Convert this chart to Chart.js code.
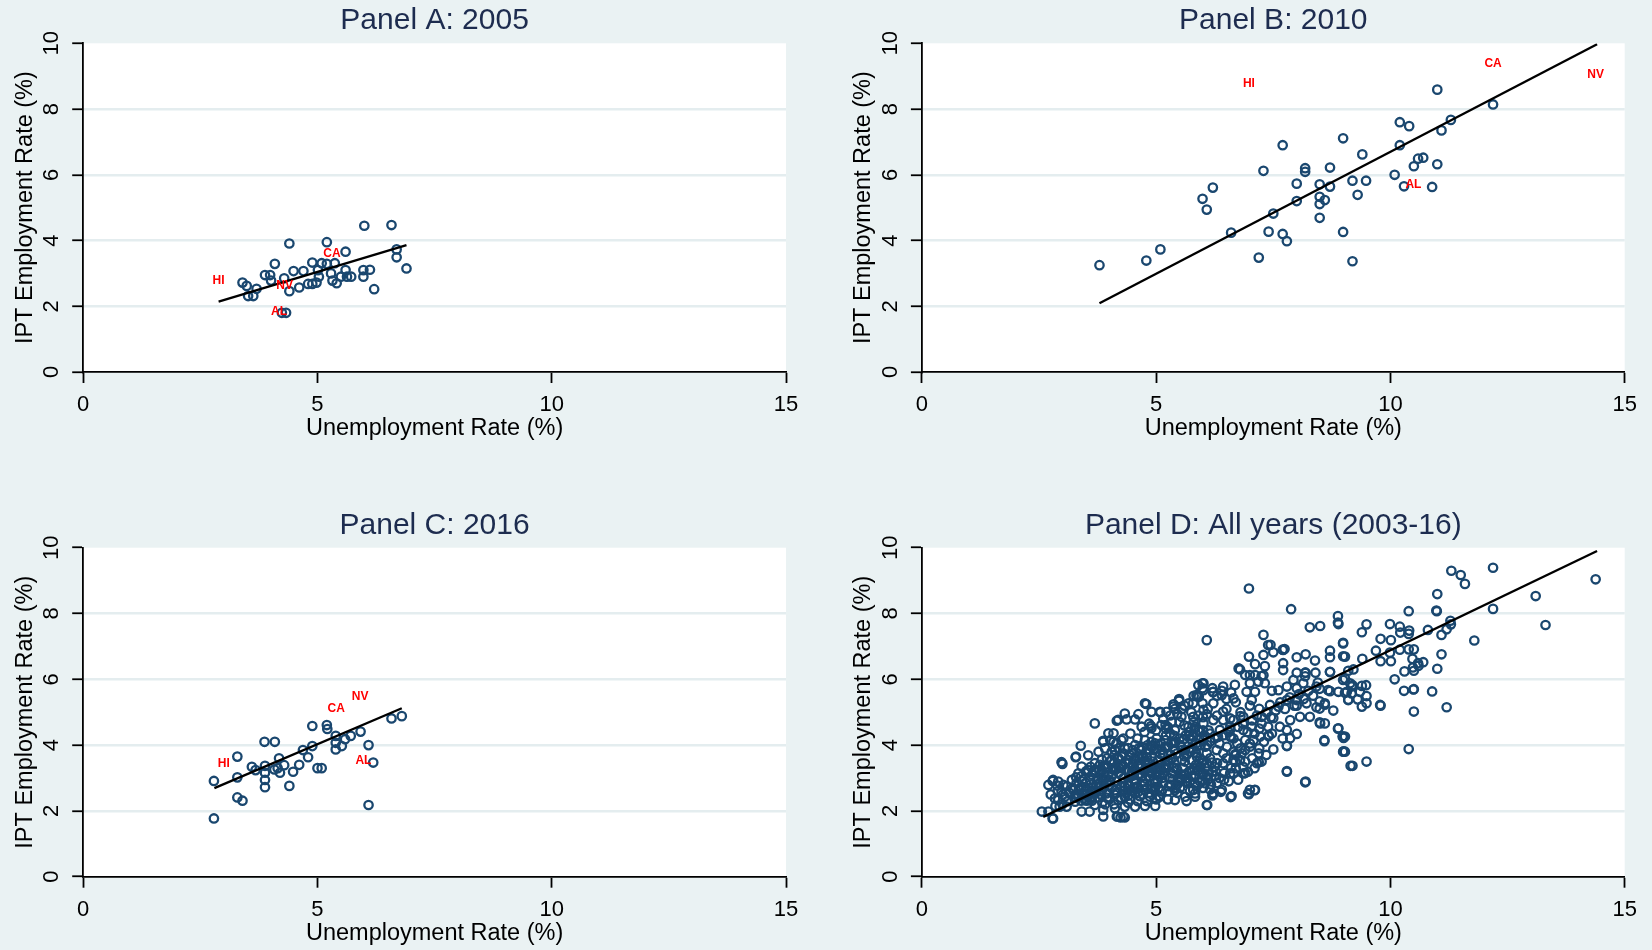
<!DOCTYPE html>
<html><head><meta charset="utf-8">
<script src="https://cdn.jsdelivr.net/npm/chart.js@4.4.1/dist/chart.umd.min.js"></script>
<style>
html,body{margin:0;padding:0;background:#eaf2f3;width:1652px;height:950px;overflow:hidden;}
.cell{position:absolute;width:826px;height:475px;}
canvas{display:block;}
</style></head><body>
<div class="cell" style="left:0;top:0"><canvas id="cA" width="826" height="475"></canvas></div>
<div class="cell" style="left:826px;top:0"><canvas id="cB" width="826" height="475"></canvas></div>
<div class="cell" style="left:0;top:475px"><canvas id="cC" width="826" height="475"></canvas></div>
<div class="cell" style="left:826px;top:475px"><canvas id="cD" width="826" height="475"></canvas></div>
<script>
// ---------- DATA ----------
const titleA = "Panel A: 2005";
const titleB = "Panel B: 2010";
const titleC = "Panel C: 2016";
const titleD = "Panel D: All years (2003-16)";
const xAxisTitle = "Unemployment Rate (%)";
const yAxisTitle = "IPT Employment Rate (%)";
const xTicks = [0, 5, 10, 15];
const yTicks = [0, 2, 4, 6, 8, 10];

// [unemployment rate, IPT employment rate]
const pointsA = [[3.40,2.72],[3.49,2.62],[3.52,2.31],[3.63,2.31],[3.70,2.53],[3.88,2.95],[3.99,2.95],[4.09,3.29],[4.01,2.78],[4.29,2.85],[4.40,3.91],[4.40,2.46],[4.49,3.07],[4.61,2.57],[4.70,3.07],[4.80,2.68],[4.89,3.33],[4.89,2.68],[4.98,2.72],[5.03,2.90],[5.01,3.10],[5.09,3.31],[5.20,3.95],[5.20,3.29],[5.29,3.00],[5.32,2.78],[5.41,2.70],[5.37,3.31],[5.50,2.90],[5.60,3.66],[5.60,3.10],[5.63,2.90],[5.72,2.90],[5.98,3.10],[5.98,2.90],[6.12,3.11],[6.21,2.52],[6.00,4.45],[6.58,4.47],[6.69,3.73],[6.69,3.49],[6.90,3.15],[4.24,1.80],[4.33,1.80]];
const labelsA = [["HI",2.89,2.77],["CA",5.31,3.59],["NV",4.30,2.62],["AL",4.18,1.83]];
const fitA = [[2.89,2.14],[6.90,3.86]];

const pointsB = [[3.79,3.25],[4.79,3.39],[5.09,3.73],[5.99,5.27],[6.08,4.94],[6.21,5.61],[6.60,4.24],[7.19,3.48],[7.29,6.12],[7.40,4.27],[7.50,4.82],[7.70,6.90],[7.70,4.20],[7.79,3.98],[8.00,5.73],[8.00,5.20],[8.18,6.20],[8.18,6.09],[8.49,5.71],[8.49,5.33],[8.49,5.11],[8.60,5.23],[8.49,4.69],[8.71,6.22],[8.71,5.64],[8.99,7.11],[8.99,4.26],[9.19,5.82],[9.19,3.37],[9.30,5.39],[9.40,6.62],[9.48,5.82],[10.09,6.00],[10.20,7.60],[10.20,6.90],[10.29,5.65],[10.40,7.48],[10.50,6.26],[10.59,6.49],[10.70,6.52],[10.89,5.63],[11.00,8.59],[11.00,6.32],[11.09,7.35],[11.29,7.67],[12.19,8.14]];
const labelsB = [["HI",6.98,8.76],["CA",12.19,9.39],["NV",14.38,9.04],["AL",10.49,5.69]];
const fitB = [[3.79,2.09],[14.41,9.97]];

const pointsC = [[2.79,2.91],[2.79,1.77],[3.29,3.65],[3.29,3.02],[3.29,2.41],[3.40,2.31],[3.60,3.34],[3.68,3.24],[3.87,4.10],[4.09,4.10],[3.88,3.37],[3.88,3.16],[3.88,2.94],[3.88,2.72],[4.08,3.26],[4.18,3.60],[4.20,3.16],[4.29,3.39],[4.40,2.76],[4.48,3.19],[4.61,3.40],[4.69,3.85],[4.80,3.63],[4.89,4.58],[4.89,3.97],[5.00,3.30],[5.09,3.30],[5.20,4.61],[5.21,4.49],[5.39,4.28],[5.39,4.07],[5.39,3.87],[5.52,3.97],[5.59,4.18],[5.71,4.28],[5.92,4.41],[6.09,4.00],[6.19,3.47],[6.09,2.18],[6.58,4.81],[6.80,4.88],[4.15,3.30]];
const labelsC = [["HI",3.00,3.43],["CA",5.40,5.10],["NV",5.91,5.47],["AL",5.98,3.52]];
const fitC = [[2.80,2.69],[6.80,5.12]];

// remaining state-years shown only in panel D
const pointsOtherYears = [
[13.10,8.53],[13.31,7.65],[11.30,9.30],[11.50,9.17],[11.59,8.90],[11.79,7.18],
[10.39,8.07],[10.99,8.07],[11.28,7.78],[11.20,7.52],[10.80,7.50],[9.49,7.67],[9.39,7.43],[9.99,7.68],[10.21,7.42],[10.39,7.38],[9.79,7.23],[10.01,7.19],[9.03,6.69],[9.69,6.87],[9.99,6.81],[10.39,6.91],[10.50,6.91],[9.79,6.55],[10.01,6.55],[10.47,6.62],[10.48,6.36],[10.60,6.41],[11.09,6.76],[9.10,6.26],[9.21,6.30],[10.30,6.24],[9.03,6.02],[9.17,5.78],[9.39,5.80],[9.03,5.59],[9.17,5.57],[9.35,5.62],[9.49,5.49],[9.10,5.38],[9.49,5.27],[9.39,5.17],[9.79,5.20],[10.50,5.70],[10.50,5.02],[11.20,5.15],[9.03,4.26],[9.03,3.80],[9.49,3.50],[10.39,3.88],
[7.88,8.13],[8.88,7.92],[8.88,7.72],[10.98,8.09],[9.78,5.22],[8.59,4.12],[8.19,2.89],[7.79,3.21],[6.98,2.51],[7.10,2.63],[6.59,2.42],[6.08,2.18],[6.20,2.47],[6.38,2.58],[3.69,4.66],[2.98,3.48],[4.19,4.77],[4.79,5.25],[5.09,5.00],[5.37,5.24],[5.49,5.40],[5.99,5.88],[5.99,5.73],[6.76,6.33],[6.98,6.69],[7.29,7.35],[7.44,7.05],[7.74,6.92],[8.19,6.76],[8.88,4.50],[9.00,4.22],[9.00,3.81],
[6.08,7.19],[8.28,7.58],[8.50,7.62],[8.89,7.68],[7.39,7.04],[7.50,6.82],[7.71,6.89],[7.29,6.74],[7.11,6.46],[6.79,6.30],[6.90,6.13],[7.00,6.13],[7.11,6.13],[7.25,6.10],[7.32,6.40],[8.00,6.67],[8.39,6.57],[8.71,6.87],[8.71,6.67],[8.99,7.09],[8.99,6.70],[7.71,6.49],[7.71,6.28],[8.00,6.20],[8.19,6.20],[8.40,6.20],[8.71,6.23],[8.99,5.98],[9.14,5.88],[9.07,5.62],[9.10,5.37],[8.89,5.62],[8.67,5.67],[8.42,5.78],[8.14,5.88],[7.93,5.98],[7.79,5.78],[7.61,5.67],[7.47,5.65],[7.32,5.88],[7.18,5.93],[7.00,5.88],[6.93,5.62],[7.11,5.62],[7.04,5.37],[6.68,5.83],[6.65,5.42],[6.43,5.78],[6.40,5.52],[6.22,5.62],[6.01,5.88],[6.01,5.67],[5.87,5.48],[6.22,5.27],[6.01,5.07],[5.79,5.27],[5.79,4.86],[6.43,5.02],[6.65,4.76],[6.86,4.86],[6.86,4.46],[7.04,4.56],[7.25,4.86],[7.43,5.22],[7.61,5.17],[7.79,5.37],[8.00,5.37],[8.21,5.27],[8.42,5.15],[8.60,5.27],[8.78,5.05],[8.50,4.66],[8.60,4.66],[8.28,4.86],[8.07,4.86],[7.86,4.76],[7.64,4.56],[7.79,4.46],[7.86,4.21],[8.00,4.34],[7.47,4.35],[7.39,4.56],[7.22,4.26],[7.50,3.87],[7.79,3.97],[8.59,4.15],[8.89,4.51],[8.98,4.26],[8.99,3.80],[9.15,3.37],[7.79,3.19],[8.18,2.87],[7.19,3.75],[7.15,3.45],[7.25,3.50],[6.96,3.19],[6.86,3.14],[6.65,3.14],[6.58,3.14],[6.86,3.34],[7.00,2.64],[7.11,2.64],[6.96,2.53],[6.61,2.45],[6.40,2.64],[6.22,2.53],[6.04,2.84],[5.79,2.64],[5.83,2.43],[6.01,3.14],[6.25,3.07],[6.25,3.34],[6.43,3.45],[6.65,3.55],[6.83,3.75],[7.00,3.95],[7.08,4.15],[6.90,4.15],[6.73,4.05],[6.51,3.95],[6.29,3.85],[6.08,3.75],[5.87,3.64],[5.87,3.95],[6.01,4.15],[6.15,4.35],[6.36,4.46],[6.58,4.56],[6.58,4.26],[6.43,4.76],[6.22,4.76],[6.01,4.66],[5.83,4.56],[5.79,4.26],[5.94,3.34],[6.08,3.45],[6.43,3.75],[6.65,3.80],[6.79,3.55],
[3.39,3.98],[3.28,3.63],[2.70,2.79],[2.80,2.94],[2.91,2.89],[3.02,2.79],[2.56,1.98],[2.70,1.98],[2.80,1.77],[2.94,2.13],[3.09,2.13],[3.27,2.28],[3.41,1.98],[3.58,1.98],[3.87,1.83],[3.87,2.03],[4.16,1.83],[4.30,1.83],[4.12,2.08],[4.33,2.13],[4.55,2.13],[4.76,2.15],[4.98,2.15],[5.08,2.43],[4.87,2.43],[2.84,2.38],[3.05,2.43],[3.23,2.63],[3.45,2.73],[3.59,2.94],[3.55,3.24],[3.69,3.45],[3.84,3.55],[3.55,3.69],[3.77,3.80],[3.91,3.90],[3.87,4.13],[4.02,4.15],[4.09,4.36],[3.98,4.36],[4.16,4.74],[4.37,4.78],[4.33,4.96],[4.55,4.78],[4.62,4.94],[4.76,5.27],[4.90,5.01],[5.08,5.01],[5.22,5.01],[5.37,5.17],[5.49,5.35],[5.69,5.27],[5.86,5.52],[5.90,5.82],[4.26,4.15],[4.12,3.85],[4.33,3.90],[4.55,4.00],[4.69,4.56],[4.90,4.51],[5.11,4.61],[5.33,4.71],[5.54,4.86],[5.69,4.56],[5.76,4.15],[5.62,3.85],[5.76,3.55],[5.90,3.24],[5.83,2.84],[5.83,2.53],[5.62,2.43],[5.40,2.33],[5.40,2.63],[5.54,2.94],[5.33,3.14],[5.11,3.24],[5.26,3.55],[5.40,3.85],[5.19,3.95],[4.98,4.05],[4.76,4.15],[4.69,3.65],[4.90,3.65],[4.55,3.55],[4.41,3.45],[4.26,3.35],[4.12,3.24],[3.98,3.09],[3.84,2.99],[3.77,2.73],[3.94,2.53],[4.12,2.63],[4.33,2.73],[4.55,2.84],[4.69,3.04],[4.90,3.14],[4.98,2.84],[4.76,2.63],[4.55,2.53],[4.33,2.43],[4.19,2.33],[2.98,2.58],[2.91,2.33],[3.34,2.43],[3.48,2.33],[3.62,2.43],[3.69,2.18],[3.20,2.94],[3.34,3.14],[3.41,3.35],[3.84,3.24],[4.05,3.55],[4.26,3.65],[4.48,3.75],
[4.30,3.00],[4.42,3.20],[4.50,3.40],[4.61,3.10],[4.72,2.90],[4.81,3.30],[4.93,3.50],[5.02,3.20],[5.13,3.00],[5.22,3.40],[5.31,3.70],[5.43,3.30],[5.52,3.00],[5.61,3.50],[5.72,3.80],[5.81,3.30],[5.93,3.60],[4.44,3.70],[4.63,3.90],[4.82,4.00],[5.01,4.20],[5.21,4.30],[5.42,4.10],[5.63,4.30],[5.82,4.50],[6.03,4.30],[4.52,2.70],[4.71,2.50],[4.92,2.70],[5.12,2.60],[5.31,2.80],[5.51,2.70],[5.72,2.60],[5.93,2.90],[4.35,3.45],[4.65,3.60],[4.95,3.85],[5.25,3.95],[5.55,3.85],[5.85,4.05],[4.25,2.75],[4.55,2.95],[4.85,3.05],[5.15,3.15],[5.45,3.25],[5.75,3.05],
[3.61,2.60],[3.72,2.80],[3.81,3.10],[3.92,3.30],[4.01,3.50],[4.11,3.70],[4.22,3.90],[3.52,2.50],[3.31,2.50],[3.12,2.30],[3.01,2.50],[3.22,2.70],[3.42,2.90],[3.63,3.10],[3.82,2.50],[4.02,2.90],[4.21,3.30],[3.91,2.20],[4.11,2.50],[4.31,2.60],
[6.20,5.73],[6.30,5.50],[6.40,5.65],[6.50,5.40],[5.80,5.50],[5.60,5.20],[5.30,4.90],[5.50,4.70],[5.90,4.90],[6.10,5.10],[6.30,4.90],[6.50,5.10],[6.70,5.30],[6.60,5.60],[6.80,5.00],[7.00,5.20],[7.20,5.10],
[3.55,2.45],[3.65,2.70],[3.75,2.95],[3.85,2.65],[3.95,2.85],[4.05,3.05],[4.15,2.90],[4.25,3.10],[4.35,3.25],[4.45,3.05],[4.55,3.25],[4.65,3.40],[4.75,3.20],[4.85,3.45],[4.95,3.30],[5.05,3.55],[5.15,3.70],[5.25,3.50],[5.35,3.60],[5.45,3.75],[5.55,3.55],[5.65,3.70],[5.75,3.90],[5.85,3.75],[5.95,4.00],[6.05,3.95],[6.15,4.10],[6.25,4.20],[6.35,4.05],[6.45,4.30],[6.55,4.40],[6.65,4.20],[6.75,4.55],[6.85,4.65],[6.95,4.40],[7.05,4.75],[7.15,4.90],[7.25,4.65],[7.35,5.00],[7.45,4.85],[7.55,5.05],[7.65,5.30],[7.75,5.10],[7.85,5.45],[7.95,5.20],[8.05,5.55],[8.15,5.40],[8.25,5.65],[8.35,5.50],[8.45,5.90],
[4.10,3.45],[4.20,3.60],[4.30,3.75],[4.40,3.55],[4.50,3.85],[4.60,3.65],[4.70,3.95],[4.80,3.75],[4.90,4.10],[5.00,3.90],[5.10,4.05],[5.20,4.15],[5.30,4.35],[5.40,4.45],[5.50,4.20],[5.60,4.60],[5.70,4.40],[5.80,4.70],[5.90,4.45],[6.00,4.85],
[4.05,2.70],[4.15,2.55],[4.25,2.40],[4.35,2.55],[4.45,2.35],[4.50,2.60],[4.60,2.75],[4.65,2.45],[4.75,2.80],[4.85,2.55],[4.95,2.95],[5.05,2.70],[5.15,2.85],[5.25,2.60],[5.35,2.95],[5.45,2.80],[5.55,3.10],[5.65,2.85],[5.70,3.20],[5.80,3.05],[5.95,3.15],[6.05,3.30],[6.10,2.95],[6.15,3.60],[6.20,3.20],[6.30,3.45],[6.35,3.00],[6.45,3.15],[6.50,3.60],[6.55,2.90],[6.70,3.30],[6.75,2.95],[6.80,3.90],[6.90,3.50],[7.05,3.60],[7.10,3.30],[7.20,3.90],[7.30,4.10],[7.35,3.70],[7.40,4.30],
[3.15,2.55],[3.25,2.40],[3.35,2.65],[3.45,2.50],[3.50,2.85],[3.60,2.35],[3.70,2.60],[3.80,2.85],[3.90,3.05],[3.95,2.40],[3.00,2.20],[3.10,2.75],[2.90,2.60],[2.75,2.50],[2.85,2.15],
[4.40,2.85],[4.48,3.12],[4.58,2.68],[4.68,3.30],[4.78,2.98],[4.88,3.22],[4.97,2.60],[5.07,3.05],[5.17,3.35],[5.27,2.75],[5.37,3.20],[5.47,2.95],[5.57,3.30],[5.67,3.00],[5.77,3.25],[5.87,2.75],[5.97,3.45],[6.07,3.05],[6.17,2.80],[6.27,3.20],[4.52,3.55],[4.72,3.70],[4.92,3.95],[5.12,3.85],[5.32,4.05],[5.52,4.00],[5.72,4.20],[5.92,4.20],[6.12,4.45],[6.32,4.25],
[5.05,2.45],[5.25,2.35],[5.45,2.55],[5.65,2.30],[5.85,3.40],[6.00,2.70],[6.15,2.65],[6.30,2.85],[6.45,2.95],[6.60,3.30],[6.70,3.70],[6.90,3.85],[7.00,4.05],[7.10,4.35],[7.20,4.50],
[3.70,3.20],[3.80,3.40],[3.95,3.60],[4.05,3.80],[4.15,4.05],[4.30,4.20],[4.45,4.35],[4.60,4.20],[4.75,4.40],[4.85,4.65],[5.00,4.45],[5.15,4.80],[5.25,4.55],[5.45,4.95],[5.55,5.10],[5.75,5.00],
[3.30,2.85],[3.40,3.05],[3.50,3.20],[3.60,2.80],[3.75,2.40],[3.85,2.25],[4.00,2.35],[4.10,2.20],[4.40,2.25],[4.60,2.30],[4.80,2.30],[5.00,2.35]
];
const fitD = [[2.59,1.82],[14.41,9.90]];

// ---------- RENDERING ----------
const NAVY = '#1a476f';
const GRID = '#e4edef';
const FONT = "'Liberation Sans', Arial, Helvetica, sans-serif";

const toXY = arr => arr.map(p => ({x: p[0], y: p[1]}));

const plotBg = {
  id: 'plotBg',
  beforeDraw(chart) {
    const {ctx, chartArea: a} = chart;
    ctx.save();
    ctx.fillStyle = '#ffffff';
    ctx.fillRect(a.left, a.top, a.right - a.left, a.bottom - a.top);
    ctx.restore();
  }
};

const stateLabels = {
  id: 'stateLabels',
  afterDatasetsDraw(chart) {
    const ctx = chart.ctx;
    chart.data.datasets.forEach((ds, i) => {
      if (!ds.stateNames) return;
      const meta = chart.getDatasetMeta(i);
      ctx.save();
      ctx.fillStyle = '#ff0000';
      ctx.font = "bold 12px " + FONT;
      ctx.textAlign = 'center';
      ctx.textBaseline = 'middle';
      meta.data.forEach((el, j) => ctx.fillText(ds.stateNames[j], el.x, el.y));
      ctx.restore();
    });
  }
};

function makePanel(id, o) {
  const datasets = [
    {data: toXY(o.fit), showLine: true, borderColor: '#000', borderWidth: 2.4, pointRadius: 0, fill: false},
    {data: toXY(o.points), pointStyle: 'circle', pointRadius: 4.2, pointBorderWidth: 2.3,
     pointBorderColor: NAVY, pointBackgroundColor: 'rgba(0,0,0,0)', showLine: false}
  ];
  if (o.labels) {
    datasets.push({data: o.labels.map(l => ({x: l[1], y: l[2]})), stateNames: o.labels.map(l => l[0]),
      pointRadius: 0, showLine: false});
  }
  new Chart(document.getElementById(id), {
    type: 'scatter',
    data: {datasets},
    plugins: [plotBg, stateLabels],
    options: {
      responsive: false, animation: false, devicePixelRatio: 1, events: [],
      layout: {padding: {left: o.padL, right: o.padR, top: 0, bottom: 0}},
      plugins: {
        legend: {display: false}, tooltip: {enabled: false},
        title: {display: true, text: o.title, fullSize: false, color: '#1d2c4f',
          font: {family: FONT, size: 30, weight: 'normal', lineHeight: 1.2},
          padding: {top: o.titleTop, bottom: o.titleBottom}}
      },
      scales: {
        x: {
          type: 'linear', min: 0, max: 15,
          afterBuildTicks: s => { s.ticks = xTicks.map(v => ({value: v})); },
          afterFit: s => { s.height = o.xHeight; },
          ticks: {color: '#000', font: {family: FONT, size: 22}, padding: 9, maxRotation: 0},
          grid: {drawOnChartArea: false, drawTicks: true, tickLength: 11, tickColor: '#000', tickWidth: 1.8},
          border: {display: true, color: '#000', width: 1.8, z: 2},
          title: {display: true, text: xAxisTitle, color: '#000', font: {family: FONT, size: 23.5}, padding: {top: 0, bottom: o.xTitlePad}}
        },
        y: {
          type: 'linear', min: 0, max: 10,
          afterBuildTicks: s => { s.ticks = yTicks.map(v => ({value: v})); },
          afterFit: s => { s.width = 83.2; },
          ticks: {color: '#000', font: {family: FONT, size: 22}, padding: 8, minRotation: 90, maxRotation: 90, crossAlign: 'center'},
          grid: {drawOnChartArea: true, drawTicks: true, tickLength: 11,
            color: c => (c.tick && (c.tick.value === 0 || c.tick.value === 10)) ? 'rgba(0,0,0,0)' : GRID,
            lineWidth: 2.5, tickColor: '#000', tickWidth: 1.8},
          border: {display: true, color: '#000', width: 1.8, z: 2},
          title: {display: true, text: yAxisTitle, color: '#000', font: {family: FONT, size: 23.5}, padding: {top: 11, bottom: 0}}
        }
      }
    }
  });
}

const labelPointsD = labelsA.concat(labelsB, labelsC).map(l => [l[1], l[2]]);
const pointsD = pointsA.concat(pointsB, pointsC, labelPointsD, pointsOtherYears);

makePanel('cA', {title: titleA, points: pointsA, labels: labelsA, fit: fitA, padL: 0, padR: 40, titleTop: 2.8, titleBottom: 4.5, xHeight: 103, xTitlePad: 32.6});
makePanel('cB', {title: titleB, points: pointsB, labels: labelsB, fit: fitB, padL: 12.7, padR: 27.3, titleTop: 2.8, titleBottom: 4.5, xHeight: 103, xTitlePad: 32.6});
makePanel('cC', {title: titleC, points: pointsC, labels: labelsC, fit: fitC, padL: 0, padR: 40, titleTop: 32.8, titleBottom: 3.9, xHeight: 73.3, xTitlePad: 2.6});
makePanel('cD', {title: titleD, points: pointsD, labels: null, fit: fitD, padL: 12.7, padR: 27.3, titleTop: 32.8, titleBottom: 3.9, xHeight: 73.3, xTitlePad: 2.6});
</script>
</body></html>
